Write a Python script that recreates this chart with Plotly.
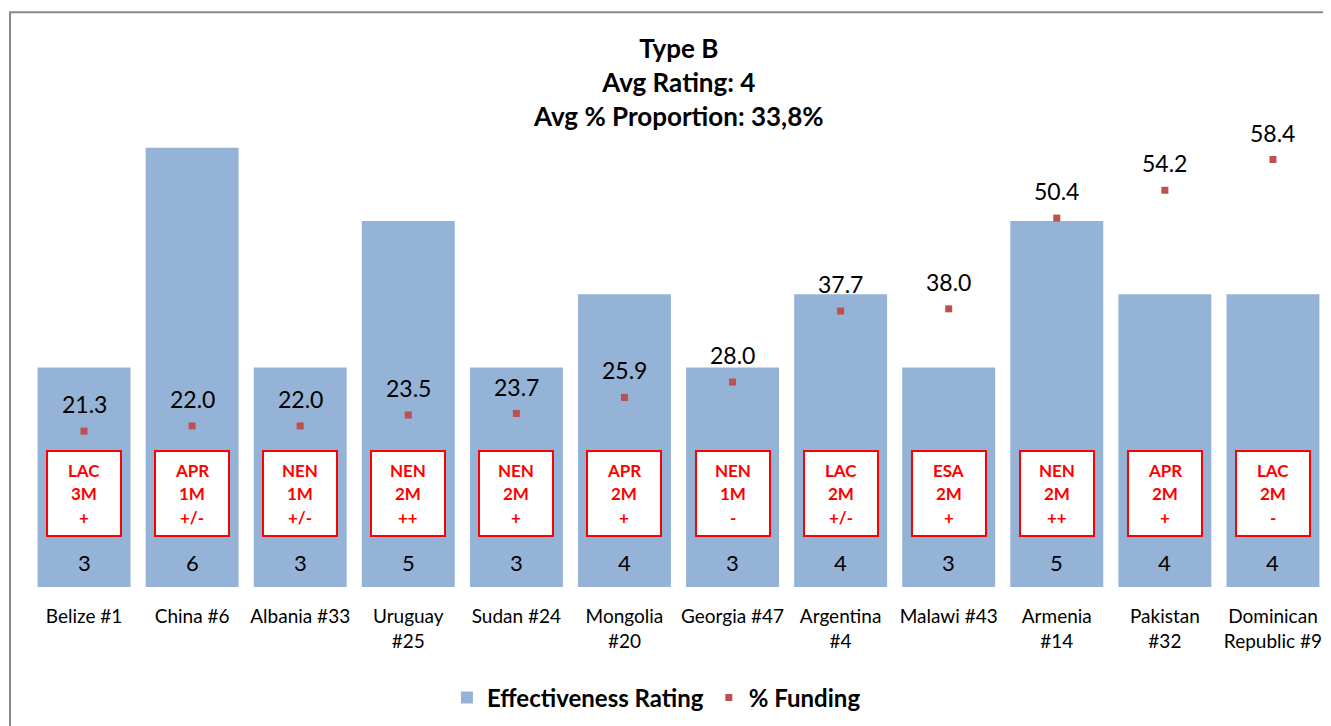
import plotly.graph_objects as go

countries = ["Belize #1", "China #6", "Albania #33", "Uruguay<br>#25", "Sudan #24",
             "Mongolia<br>#20", "Georgia #47", "Argentina<br>#4", "Malawi #43",
             "Armenia<br>#14", "Pakistan<br>#32", "Dominican<br>Republic #9"]
rating = [3, 6, 3, 5, 3, 4, 3, 4, 3, 5, 4, 4]
funding = [21.3, 22.0, 22.0, 23.5, 23.7, 25.9, 28.0, 37.7, 38.0, 50.4, 54.2, 58.4]
region = ["LAC", "APR", "NEN", "NEN", "NEN", "APR", "NEN", "LAC", "ESA", "NEN", "APR", "LAC"]
size = ["3M", "1M", "1M", "2M", "2M", "2M", "1M", "2M", "2M", "2M", "2M", "2M"]
trend = ["+", "+/-", "+/-", "++", "+", "+", "-", "+/-", "+", "++", "+", "-"]

FONT = "Lato"
BAR = "#95B3D7"
PT = "#C0504D"

xs = list(range(len(countries)))
fig = go.Figure()
fig.add_trace(go.Bar(x=xs, y=rating, name="Effectiveness Rating",
                     marker=dict(color=BAR, line=dict(width=0)), width=0.86, textposition="none"))
fig.add_trace(go.Scatter(x=xs, y=funding, name="% Funding", yaxis="y2", mode="markers",
                         marker=dict(symbol="square", size=7, color=PT)))

ann = []
BOX_Y = 1.28
for i in xs:
    ann.append(dict(x=i, y=BOX_Y, xref="x", yref="y", showarrow=False, text=" ",
                    font=dict(size=12),
                    bgcolor="white", bordercolor="#FF0000", borderwidth=2, borderpad=0,
                    width=72, height=83))
    for txt, dy in ((region[i], 23), (size[i], 0), (trend[i], -24)):
        ann.append(dict(x=i, y=BOX_Y, xref="x", yref="y", showarrow=False, yshift=dy,
                        text=f"<b>{txt}</b>",
                        font=dict(size=17, color="#FF0000", family=FONT)))
    ann.append(dict(x=i, y=0.34, xref="x", yref="y", showarrow=False,
                    text=str(rating[i]), font=dict(size=22, color="#000", family=FONT)))
    ann.append(dict(x=i, y=funding[i], xref="x", yref="y2", showarrow=False, yshift=27,
                    text=f"{funding[i]:.1f}", font=dict(size=23, color="#000", family=FONT)))

ann.append(dict(x=0.5, y=0.92, xref="paper", yref="paper", xanchor="center", yanchor="middle",
                showarrow=False,
                text="<b>Type B<br>Avg Rating: 4<br>Avg % Proportion: 33,8%</b>",
                font=dict(size=26, color="#000", family=FONT), align="center"))

fig.update_layout(
    width=1331, height=726,
    margin=dict(l=22, r=12, t=30, b=147),
    plot_bgcolor="white", paper_bgcolor="white",
    font=dict(family=FONT, color="#000"),
    xaxis=dict(tickvals=xs, ticktext=countries,
               range=[-0.5, len(countries) - 0.5], showgrid=False, showline=False,
               ticks="", ticklabelstandoff=16, tickfont=dict(size=19, family=FONT), zeroline=False),
    yaxis=dict(range=[0, 7.5], visible=False, showgrid=False, zeroline=False),
    yaxis2=dict(range=[0, 75], overlaying="y", side="right", visible=False, showgrid=False),
    showlegend=True,
    legend=dict(orientation="h", x=0.483, xanchor="center", y=-0.202, yanchor="middle",
                font=dict(size=24, family=FONT, color="#000", weight="bold"),
                itemsizing="trace", traceorder="normal"),
    annotations=ann,
    shapes=[dict(type="rect", xref="paper", yref="paper", x0=-0.0154, x1=1.03,
                 y0=-0.4, y1=1.047, line=dict(color="#888888", width=2), layer="below")],
)
fig.write_html("out.html")
